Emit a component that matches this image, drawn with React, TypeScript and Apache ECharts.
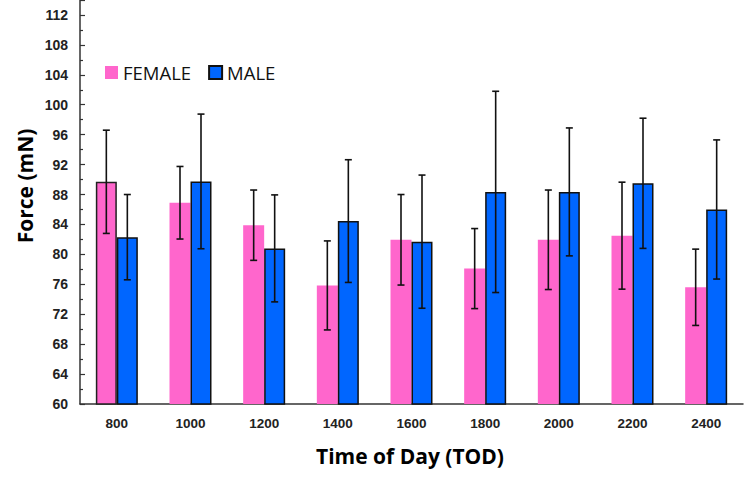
import React, { useEffect, useRef } from "react";
import * as echarts from "echarts";

const categories = ["800", "1000", "1200", "1400", "1600", "1800", "2000", "2200", "2400"];
const femaleValues = [89.7, 86.9, 83.9, 75.85, 81.95, 78.1, 81.95, 82.5, 75.6];
const femaleErrors = [6.9, 4.85, 4.7, 5.95, 6.05, 5.35, 6.65, 7.15, 5.1];
const maleValues = [82.3, 89.75, 80.8, 84.45, 81.7, 88.35, 88.35, 89.5, 86.0];
const maleErrors = [5.7, 9.0, 7.15, 8.2, 8.9, 13.45, 8.55, 8.7, 9.3];
const seriesNames = ["FEMALE", "MALE"];

const PINK = "#FF66CC";
const BLUE = "#0066FF";
const BAR_W = 21;

export default function App() {
  const ref = useRef<HTMLDivElement>(null);
  useEffect(() => {
    if (!ref.current) return;
    const chart = echarts.init(ref.current, undefined, { renderer: "svg" });

    const errData: number[][] = [];
    femaleValues.forEach((v, i) => errData.push([i, v, femaleErrors[i], -1]));
    maleValues.forEach((v, i) => errData.push([i, v, maleErrors[i], 1]));

    const renderItem = (params: any, api: any) => {
      const idx = api.value(0);
      const v = api.value(1);
      const e = api.value(2);
      const side = api.value(3);
      const top = api.coord([idx, v + e]);
      const bot = api.coord([idx, v - e]);
      const x = top[0] + side * (BAR_W / 2);
      const cap = 3.5;
      const style = { stroke: "#111", lineWidth: 1.6 };
      return {
        type: "group",
        children: [
          { type: "line", shape: { x1: x, y1: top[1], x2: x, y2: bot[1] }, style },
          { type: "line", shape: { x1: x - cap, y1: top[1], x2: x + cap, y2: top[1] }, style },
          { type: "line", shape: { x1: x - cap, y1: bot[1], x2: x + cap, y2: bot[1] }, style },
        ],
      };
    };

    chart.setOption({
      animation: false,
      grid: { left: 80, right: 7, top: -6, bottom: 80, containLabel: false },
      legend: {
        left: 105,
        top: 63,
        padding: 0,
        itemWidth: 13,
        itemHeight: 13,
        itemGap: 17,
        icon: "rect",
        data: seriesNames,
        textStyle: { fontFamily: "Open Sans", fontSize: 18.5, color: "#111" },
      },
      xAxis: {
        type: "category",
        data: categories,
        axisLine: { lineStyle: { color: "#333", width: 1.5 } },
        axisTick: { inside: true, length: 6, lineStyle: { color: "#333", width: 1.5 } },
        axisLabel: {
          fontFamily: "Liberation Sans",
          fontWeight: "bold",
          fontSize: 13.5,
          color: "#222",
          margin: 12,
        },
      },
      yAxis: {
        type: "value",
        min: 60,
        max: 114,
        interval: 4,
        axisLine: { show: true, lineStyle: { color: "#333", width: 1.5 } },
        axisTick: { show: true, inside: true, length: 5, lineStyle: { color: "#333", width: 1.2 } },
        minorTick: { show: true, splitNumber: 2, length: 3, lineStyle: { color: "#333", width: 1.2 } },
        splitLine: { show: false },
        axisLabel: {
          fontFamily: "Liberation Sans",
          fontWeight: "bold",
          fontSize: 14,
          color: "#222",
          margin: 12,
          formatter: (v: number) => (v > 112 ? "" : String(v)),
        },
      },
      graphic: [
        {
          type: "text",
          x: 410,
          y: 456,
          style: {
            text: "Time of Day (TOD)",
            font: "bold 21px 'Open Sans'",
            fill: "#000",
            align: "center",
            verticalAlign: "middle",
          },
        },
        {
          type: "text",
          x: 25,
          y: 186,
          rotation: Math.PI / 2,
          style: {
            text: "Force (mN)",
            font: "bold 21px 'Open Sans'",
            fill: "#000",
            align: "center",
            verticalAlign: "middle",
          },
        },
      ],
      series: [
        {
          name: seriesNames[0],
          type: "bar",
          barWidth: BAR_W,
          barGap: "0%",
          itemStyle: { color: PINK },
          data: femaleValues.map((v, i) =>
            i === 0 ? { value: v, itemStyle: { borderColor: "#222", borderWidth: 1.5 } } : v
          ),
        },
        {
          name: seriesNames[1],
          type: "bar",
          barWidth: BAR_W,
          barGap: "0%",
          itemStyle: { color: BLUE, borderColor: "#111", borderWidth: 1.5 },
          data: maleValues,
        },
        {
          type: "custom",
          renderItem,
          data: errData,
          encode: { x: 0, y: 1 },
          z: 10,
          silent: true,
        },
      ],
    });
    return () => chart.dispose();
  }, []);
  return (
    <div
      ref={ref}
      style={{ position: "fixed", left: 0, top: 0, width: 750, height: 484, background: "#fff" }}
    />
  );
}
